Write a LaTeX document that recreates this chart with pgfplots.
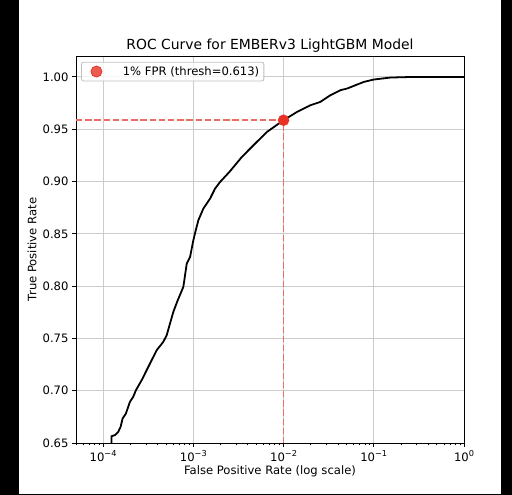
\documentclass[border=0pt]{standalone}
\usepackage{fontspec}
\setmainfont{DejaVu Sans}
\usepackage{pgfplots}
\pgfplotsset{compat=1.18}

\definecolor{dotred}{RGB}{232,50,38}
\definecolor{dashred}{RGB}{236,110,100}

\newcommand{\lbl}{\fontsize{11.6}{13}\selectfont}
\newcommand{\expo}[1]{\raisebox{0.42em}{\fontsize{8.2}{9}\selectfont #1}}

\begin{document}
\begin{tikzpicture}
% black edges of the screenshot (1pt = 1px of the reference)
\fill[black] (-76pt,-52pt) rectangle (-57pt,443pt);
\fill[black] (425pt,-52pt) rectangle (436pt,443pt);
\fill[black] (-76pt,-52pt) rectangle (436pt,-51pt);
\begin{semilogxaxis}[
    set layers=standard,
    scale only axis,
    width=388pt, height=387pt,
    at={(0pt,0pt)}, anchor=south west,
    xmin=5e-5, xmax=1,
    ymin=0.65, ymax=1.02,
    log basis x=10,
    ytick={0.65,0.70,0.75,0.80,0.85,0.90,0.95,1.00},
    yticklabel style={/pgf/number format/.cd, fixed, fixed zerofill, precision=2, assume math mode=true},
    xticklabel={\pgfmathtruncatemacro\ee{round(\tick)}10\expo{\ifnum\ee<0 −\number-\ee\else\number\ee\fi}},
    tick label style={font=\lbl},
    grid=major,
    major grid style={draw=gray!40, line width=0.9pt},
    axis line style={line width=0.9pt},
    tick align=outside,
    tick style={black, line width=0.9pt},
    major tick length=4pt,
    minor tick length=2.3pt,
    minor tick style={line width=0.7pt},
    xtick pos=bottom, ytick pos=left,
    every axis title shift=0pt,
    title={ROC Curve for EMBERv3 LightGBM Model},
    title style={font=\fontsize{13.9}{16}\selectfont, at={(axis description cs:0.5,1)}, anchor=base, yshift=6.5pt},
    xlabel={False Positive Rate (log scale)},
    ylabel={True Positive Rate},
    xlabel style={font=\lbl, at={(axis description cs:0.5,0)}, anchor=center, yshift=-28.7pt},
    ylabel style={font=\lbl, at={(axis description cs:0,0.5)}, anchor=center, yshift=44pt},
    legend style={at={(rel axis cs:0.013,0.985)}, anchor=north west,
        draw=black!25, line width=0.8pt, rounded corners=2pt, fill=white, fill opacity=0.8,
        draw opacity=1, text opacity=1,
        font=\lbl, inner xsep=2.6pt, inner ysep=2.2pt},
    legend image code/.code={%
        \path (0pt,0pt) (36pt,0pt);
        \draw[mark repeat=1, mark phase=1, #1] plot coordinates {(12pt,0pt)};},
    legend cell align=left,
]
\addplot[black, line width=1.8pt, forget plot] table {
x y
1.24e-4 0.640
1.24e-4 0.6565
1.349e-4 0.6575
1.468e-4 0.6606
1.561e-4 0.6654
1.643e-4 0.6734
1.788e-4 0.6782
1.980e-4 0.6893
2.154e-4 0.6941
2.309e-4 0.7005
2.671e-4 0.7100
3.035e-4 0.7196
3.450e-4 0.7292
3.920e-4 0.7387
4.642e-4 0.7467
5.064e-4 0.7531
5.509e-4 0.7642
5.995e-4 0.7753
6.675e-4 0.7860
7.743e-4 0.7992
8.446e-4 0.8216
9.190e-4 0.8279
1.000e-3 0.8439
1.063e-3 0.8534
1.136e-3 0.8630
1.292e-3 0.8742
1.533e-3 0.8837
1.742e-3 0.8933
1.980e-3 0.8996
2.512e-3 0.9092
3.450e-3 0.9235
4.642e-3 0.9347
6.540e-3 0.9474
1.000e-2 0.9586
1.409e-2 0.9665
1.980e-2 0.9729
2.557e-2 0.9761
3.304e-2 0.9825
4.266e-2 0.9873
5.064e-2 0.9889
7.743e-2 0.9952
0.1 0.9975
0.1533 0.9994
0.278 1.0
1.0 1.0
};
\addplot[draw=dashred, line width=1.8pt, dash pattern=on 6.4pt off 2.8pt, forget plot]
    coordinates {(5e-5,0.9586) (0.01,0.9586) (0.01,0.64)};
\addplot[only marks, mark=*, mark size=5.5pt, color=dotred]
    coordinates {(0.01,0.9586)};
\legend{1\% FPR (thresh=0.613)}
\end{semilogxaxis}
\end{tikzpicture}
\end{document}
